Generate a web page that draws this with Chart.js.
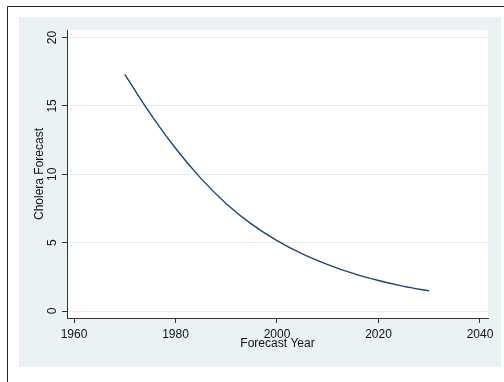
<!DOCTYPE html>
<html>
<head>
<meta charset="utf-8">
<script src="https://cdn.jsdelivr.net/npm/chart.js@4.4.0/dist/chart.umd.min.js"></script>
<style>
  html, body { margin: 0; padding: 0; background: #fff; }
  #wrap { width: 504px; height: 382px; position: relative; }
</style>
</head>
<body>
<div id="wrap"><canvas id="forecastChart"></canvas></div>
<script>
// Data
const years = [1970, 1975, 1980, 1985, 1990, 1995, 2000, 2005, 2010, 2015, 2020, 2025, 2030];
const choleraForecast = [17.3, 14.45, 11.9, 9.7, 7.85, 6.35, 5.15, 4.18, 3.4, 2.75, 2.23, 1.8, 1.47];
const xTicks = [1960, 1980, 2000, 2020, 2040];
const yTicks = [0, 5, 10, 15, 20];

const navy = '#1a476f';
const panelColor = '#eaf2f3';
const axisColor = '#333333';

// Stata-like frame: grey-blue panel, white plot region, frame lines
const backdrop = {
    id: 'backdrop',
    beforeDraw(chart) {
        const ctx = chart.ctx;
        const area = chart.chartArea;
        ctx.save();
        ctx.fillStyle = '#ffffff';
        ctx.fillRect(0, 0, chart.width, chart.height);
        ctx.fillStyle = panelColor;
        ctx.fillRect(19, 17, 482, 350);
        ctx.fillStyle = '#ffffff';
        ctx.fillRect(area.left, area.top, area.right - area.left, area.bottom - area.top);
        ctx.strokeStyle = '#222222';
        ctx.lineWidth = 1;
        ctx.beginPath();
        ctx.moveTo(7.5, chart.height);
        ctx.lineTo(7.5, 6.5);
        ctx.lineTo(chart.width, 6.5);
        ctx.stroke();
        ctx.restore();
    }
};

const ctx = document.getElementById('forecastChart').getContext('2d');
new Chart(ctx, {
    type: 'line',
    data: {
        datasets: [{
            label: 'Cholera Forecast',
            data: years.map((y, i) => ({ x: y, y: choleraForecast[i] })),
            borderColor: navy,
            borderWidth: 1.4,
            pointRadius: 0,
            fill: false,
            cubicInterpolationMode: 'monotone'
        }]
    },
    options: {
        responsive: true,
        maintainAspectRatio: false,
        animation: false,
        layout: { padding: { left: 19, top: 30, right: 16, bottom: 15 } },
        plugins: {
            legend: { display: false },
            tooltip: { enabled: false }
        },
        scales: {
            x: {
                type: 'linear',
                min: 1958.62,
                max: 2041.58,
                afterFit: function(scale) { scale.height = 49; },
                afterBuildTicks: function(scale) {
                    scale.ticks = xTicks.map(v => ({ value: v }));
                },
                grid: {
                    drawOnChartArea: false,
                    tickLength: 5,
                    tickColor: axisColor
                },
                border: { color: axisColor, width: 1 },
                ticks: {
                    includeBounds: false,
                    maxRotation: 0,
                    padding: 4,
                    color: '#111',
                    font: { family: 'Liberation Sans', size: 12 },
                    callback: v => String(v)
                },
                title: {
                    display: true,
                    text: 'Forecast Year',
                    color: '#111',
                    font: { family: 'Liberation Sans', size: 12 },
                    padding: { top: 0, bottom: 16 }
                }
            },
            y: {
                min: -0.51,
                max: 20.55,
                afterFit: function(scale) { scale.width = 48; },
                afterBuildTicks: function(scale) {
                    scale.ticks = yTicks.map(v => ({ value: v }));
                },
                grid: {
                    color: '#e3ecee',
                    lineWidth: 1,
                    tickLength: 5,
                    tickColor: axisColor
                },
                border: { color: axisColor, width: 1 },
                ticks: {
                    includeBounds: false,
                    minRotation: 90,
                    maxRotation: 90,
                    crossAlign: 'center',
                    padding: 3,
                    color: '#111',
                    font: { family: 'Liberation Sans', size: 12 },
                    callback: v => String(v)
                },
                title: {
                    display: true,
                    text: 'Cholera Forecast',
                    color: '#111',
                    font: { family: 'Liberation Sans', size: 12 },
                    padding: { top: 13, bottom: 0 }
                }
            }
        }
    },
    plugins: [backdrop]
});
</script>
</body>
</html>
